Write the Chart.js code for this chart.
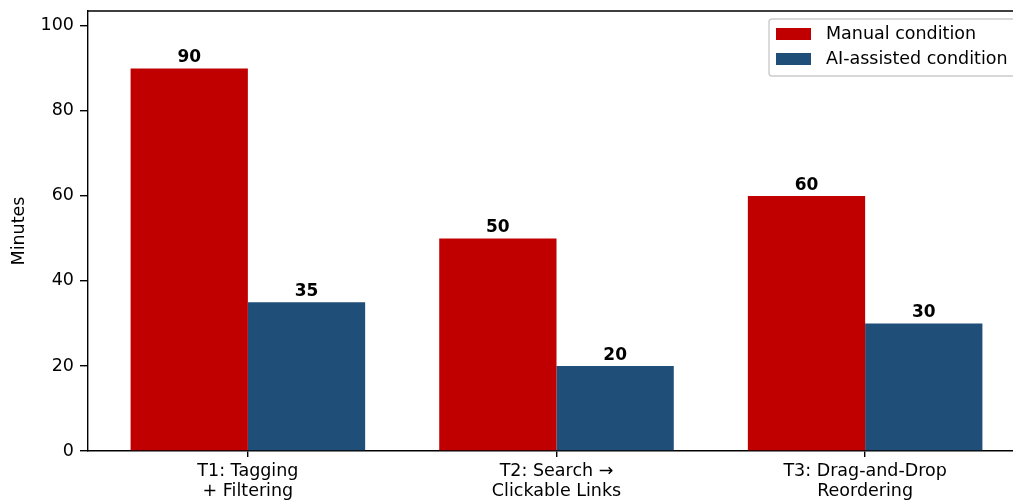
<!DOCTYPE html>
<html>
<head>
<meta charset="utf-8">
<script src="https://cdn.jsdelivr.net/npm/chart.js@4/dist/chart.umd.min.js"></script>
<style>
  html, body { margin: 0; padding: 0; background: #fff; overflow: hidden; }
  #wrap { width: 1013px; height: 501px; overflow: hidden; }
</style>
</head>
<body>
<div id="wrap"><canvas id="chart" width="1040" height="501"></canvas></div>
<script>
// task names (two lines each) and minutes per condition
const categories = [
  ['T1: Tagging', '+ Filtering'],
  ['T2: Search \u2192', 'Clickable Links'],
  ['T3: Drag-and-Drop', 'Reordering']
];
const seriesNames = ['Manual condition', 'AI-assisted condition'];
const manualMinutes = [90, 50, 60];
const aiMinutes = [35, 20, 30];
const yTicks = [0, 20, 40, 60, 80, 100];

const RED = '#C00000';
const BLUE = '#1F4E79';
const FONT = 'DejaVu Sans';

const toPoints = arr => arr.map((v, i) => ({ x: i, y: v }));

// closes the box around the plot (top + right)
const frame = {
  id: 'frame',
  afterDraw(chart) {
    const { ctx, chartArea: a } = chart;
    ctx.save();
    ctx.strokeStyle = '#000';
    ctx.lineWidth = 1.4;
    ctx.beginPath();
    ctx.moveTo(a.left, a.top);
    ctx.lineTo(a.right, a.top);
    ctx.lineTo(a.right, a.bottom);
    ctx.stroke();
    ctx.restore();
  }
};

// numbers on top of each bar
const barLabels = {
  id: 'barLabels',
  afterDatasetsDraw(chart) {
    const ctx = chart.ctx;
    ctx.save();
    ctx.font = 'bold 17px ' + FONT;
    ctx.fillStyle = '#000';
    ctx.textAlign = 'center';
    ctx.textBaseline = 'alphabetic';
    chart.data.datasets.forEach((ds, di) => {
      chart.getDatasetMeta(di).data.forEach((el, i) => {
        ctx.fillText(String(ds.data[i].y), el.x, el.y - 6);
      });
    });
    ctx.restore();
  }
};

// legend box in the upper right corner of the axes
const cornerLegend = {
  id: 'cornerLegend',
  afterDraw(chart) {
    const ctx = chart.ctx;
    const a = chart.chartArea;
    const w = 247, h = 57;
    const x = a.right - 9 - w, y = a.top + 8;
    ctx.save();
    ctx.fillStyle = 'rgba(255,255,255,0.8)';
    ctx.strokeStyle = '#cccccc';
    ctx.lineWidth = 1.4;
    ctx.beginPath();
    ctx.roundRect(x, y, w, h, 3);
    ctx.fill();
    ctx.stroke();
    ctx.font = '17.5px ' + FONT;
    ctx.textBaseline = 'middle';
    chart.data.datasets.forEach((ds, i) => {
      const cy = y + 15 + i * 25;
      ctx.fillStyle = ds.backgroundColor;
      ctx.fillRect(x + 7, cy - 6, 35, 12);
      ctx.fillStyle = '#000';
      ctx.fillText(ds.label, x + 57, cy);
    });
    ctx.restore();
  }
};

new Chart(document.getElementById('chart'), {
  type: 'bar',
  data: {
    datasets: [
      { label: seriesNames[0], data: toPoints(manualMinutes), backgroundColor: RED },
      { label: seriesNames[1], data: toPoints(aiMinutes), backgroundColor: BLUE }
    ]
  },
  options: {
    responsive: false,
    animation: false,
    devicePixelRatio: 1,
    layout: { padding: { top: 11, right: 15, left: 0, bottom: 0 } },
    datasets: { bar: { categoryPercentage: 0.76, barPercentage: 1.0 } },
    plugins: {
      legend: { display: false },
      tooltip: { enabled: false }
    },
    scales: {
      x: {
        type: 'linear',
        offset: false,
        min: -0.518,
        max: 2.518,
        afterBuildTicks: s => { s.ticks = categories.map((c, i) => ({ value: i })); },
        afterFit: s => { s.height = 50; s.paddingLeft = 0; s.paddingRight = 0; },
        grid: { offset: false, drawOnChartArea: false, color: '#000', lineWidth: 1.4, tickLength: 6 },
        border: { color: '#000', width: 1.4 },
        ticks: {
          color: '#000',
          padding: 4,
          maxRotation: 0,
          autoSkip: false,
          font: { family: FONT, size: 17.5, lineHeight: 1.15 },
          callback: v => categories[v]
        }
      },
      y: {
        min: 0,
        max: 103.5,
        afterBuildTicks: s => { s.ticks = yTicks.map(v => ({ value: v })); },
        afterFit: s => { s.width = 88; s.paddingTop = 0; s.paddingBottom = 0; },
        grid: { drawOnChartArea: false, color: '#000', lineWidth: 1.4, tickLength: 8 },
        border: { color: '#000', width: 1.4 },
        ticks: {
          color: '#000',
          padding: 6,
          font: { family: FONT, size: 17.5 }
        },
        title: {
          display: true,
          text: 'Minutes',
          color: '#000',
          padding: { top: 9, bottom: 0 },
          font: { family: FONT, size: 17.5 }
        }
      }
    }
  },
  plugins: [frame, barLabels, cornerLegend]
});
</script>
</body>
</html>
